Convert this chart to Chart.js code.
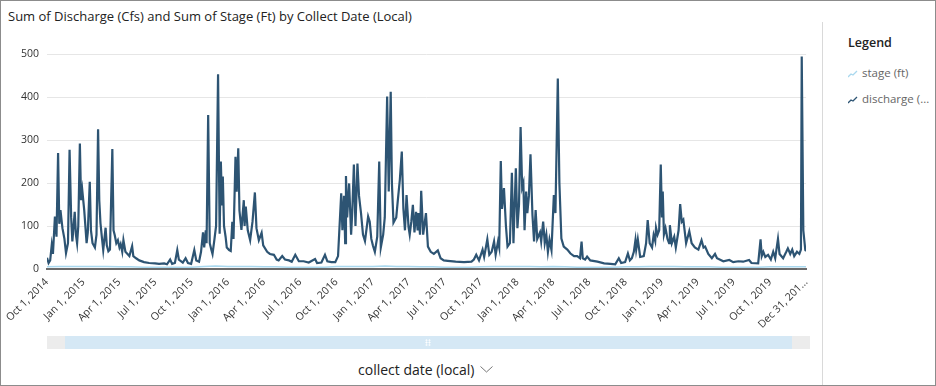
<!DOCTYPE html>
<html lang="en">
<head>
<meta charset="UTF-8">
<title>Sum of Discharge and Sum of Stage by Collect Date</title>
<script src="https://cdn.jsdelivr.net/npm/chart.js"></script>
<style>
  body { margin: 0; background: #fff; font-family: "Open Sans", sans-serif; }
  .frame { position: relative; width: 936px; height: 386px; overflow: hidden; }
  .edge { position: absolute; left: 0; top: 0; right: 0; bottom: 0; border: 1px solid #8c8c8c; pointer-events: none; }
  .title { position: absolute; left: 8px; top: 7px; font-size: 13px; color: #222; white-space: nowrap; }
  .plot { position: absolute; left: 0; top: 0; width: 822px; height: 332px; }
  .divider { position: absolute; left: 822px; top: 22px; bottom: 0; border-left: 1px solid #d9d9d9; }
  .legend { position: absolute; left: 848px; top: 34px; color: #666; font-size: 11.5px; }
  .legend h4 { margin: 0 0 14px 0; font-size: 12.5px; font-weight: 600; color: #222; }
  .legend div { height: 26px; white-space: nowrap; }
  .legend svg { margin-right: 4px; vertical-align: -1px; }
  .scroll { position: absolute; left: 47px; top: 336px; width: 763px; height: 13px; background: #d5e8f5; }
  .handle { position: absolute; top: 0; width: 18px; height: 13px; background: #ececec; }
  .grip { position: absolute; left: 378px; top: 3px; width: 6px; height: 7px;
          background-image: radial-gradient(#fff 45%, transparent 50%); background-size: 3px 2.4px; }
  .axis-title { position: absolute; left: 358px; top: 360px; font-size: 14px; color: #222; white-space: nowrap; }
  .axis-title svg { margin-left: 6px; vertical-align: 2px; }
</style>
</head>
<body>
<div class="frame">
  <div class="title">Sum of Discharge (Cfs) and Sum of Stage (Ft) by Collect Date (Local)</div>
  <div class="plot"><canvas id="flowChart"></canvas></div>
  <div class="divider"></div>
  <div class="legend">
    <h4>Legend</h4>
    <div><svg width="10" height="8"><polyline points="0,7 3,4 5,5 9,1" fill="none" stroke="#a9d8ee" stroke-width="1.3"/></svg>stage (ft)</div>
    <div><svg width="10" height="8"><polyline points="0,7 3,4 5,5 9,1" fill="none" stroke="#2d5473" stroke-width="1.3"/></svg>discharge (...</div>
  </div>
  <div class="scroll">
    <div class="handle" style="left:0"></div>
    <div class="grip"></div>
    <div class="handle" style="right:0"></div>
  </div>
  <div class="axis-title">collect date (local)<svg width="13" height="7"><polyline points="0.5,0.5 6.5,6 12.5,0.5" fill="none" stroke="#777" stroke-width="1"/></svg></div>
  <div class="edge"></div>
</div>

<script>
    // x axis ticks (quarter starts, last day is cut off in the original)
    const tickDates = ["2014-10-01", "2015-01-01", "2015-04-01", "2015-07-01", "2015-10-01", "2016-01-01",
        "2016-04-01", "2016-07-01", "2016-10-01", "2017-01-01", "2017-04-01", "2017-07-01", "2017-10-01",
        "2018-01-01", "2018-04-01", "2018-07-01", "2018-10-01", "2019-01-01", "2019-04-01", "2019-07-01",
        "2019-10-01", "2019-12-31"];
    const tickLabels = ["Oct 1, 2014", "Jan 1, 2015", "Apr 1, 2015", "Jul 1, 2015", "Oct 1, 2015", "Jan 1, 2016",
        "Apr 1, 2016", "Jul 1, 2016", "Oct 1, 2016", "Jan 1, 2017", "Apr 1, 2017", "Jul 1, 2017", "Oct 1, 2017",
        "Jan 1, 2018", "Apr 1, 2018", "Jul 1, 2018", "Oct 1, 2018", "Jan 1, 2019", "Apr 1, 2019", "Jul 1, 2019",
        "Oct 1, 2019", "Dec 31, 201..."];

    // discharge (cfs), one line per quarter
    const collectDates = [
        "2014-10-01","2014-10-05","2014-10-09","2014-10-13","2014-10-16","2014-10-21","2014-10-25","2014-10-29","2014-11-01","2014-11-04","2014-11-09","2014-11-14","2014-11-18","2014-11-23","2014-11-27","2014-12-01","2014-12-04","2014-12-10","2014-12-13","2014-12-16","2014-12-19","2014-12-23","2014-12-26","2014-12-29",
        "2015-01-03","2015-01-09","2015-01-12","2015-01-17","2015-01-20","2015-01-24","2015-01-30","2015-02-03","2015-02-07","2015-02-10","2015-02-13","2015-02-17","2015-02-20","2015-02-26","2015-03-01","2015-03-05","2015-03-09","2015-03-15","2015-03-18","2015-03-21","2015-03-25","2015-03-29",
        "2015-04-02","2015-04-05","2015-04-09","2015-04-12","2015-04-17","2015-04-20","2015-04-27","2015-05-04","2015-05-07","2015-05-14","2015-05-22","2015-06-03","2015-06-16",
        "2015-07-01","2015-07-11","2015-07-24","2015-07-31","2015-08-08","2015-08-13","2015-08-20","2015-08-26","2015-08-30","2015-09-09","2015-09-16","2015-09-22","2015-09-30",
        "2015-10-08","2015-10-13","2015-10-20","2015-10-25","2015-10-30","2015-11-02","2015-11-06","2015-11-08","2015-11-12","2015-11-16","2015-11-20","2015-11-23","2015-11-28","2015-12-02","2015-12-07","2015-12-11","2015-12-14","2015-12-17","2015-12-19","2015-12-22","2015-12-26","2015-12-29",
        "2016-01-04","2016-01-08","2016-01-12","2016-01-15","2016-01-20","2016-01-23","2016-01-27","2016-01-30","2016-02-04","2016-02-10","2016-02-12","2016-02-15","2016-02-20","2016-02-26","2016-03-03","2016-03-09","2016-03-13","2016-03-19","2016-03-26","2016-03-30",
        "2016-04-09","2016-04-16","2016-04-26","2016-05-03","2016-05-08","2016-05-17","2016-05-24","2016-06-03","2016-06-10","2016-06-19","2016-06-28",
        "2016-07-10","2016-07-23","2016-08-08","2016-08-13","2016-08-24","2016-09-02","2016-09-08","2016-09-18","2016-09-28",
        "2016-10-05","2016-10-13","2016-10-16","2016-10-20","2016-10-23","2016-10-25","2016-10-28","2016-11-02","2016-11-07","2016-11-10","2016-11-14","2016-11-18","2016-11-23","2016-11-27","2016-12-02","2016-12-07","2016-12-12","2016-12-20","2016-12-24","2016-12-28",
        "2017-01-01","2017-01-06","2017-01-12","2017-01-17","2017-01-21","2017-01-27","2017-01-31","2017-02-06","2017-02-10","2017-02-15","2017-02-18","2017-02-22","2017-03-01","2017-03-05","2017-03-10","2017-03-15","2017-03-19","2017-03-23","2017-03-27",
        "2017-04-01","2017-04-04","2017-04-08","2017-04-12","2017-04-16","2017-04-20","2017-04-24","2017-04-26","2017-04-30","2017-05-03","2017-05-08","2017-05-15","2017-05-20","2017-05-27","2017-06-04","2017-06-14","2017-06-21","2017-06-29",
        "2017-07-09","2017-07-29","2017-08-19","2017-09-07","2017-09-13","2017-09-19","2017-09-26",
        "2017-10-05","2017-10-09","2017-10-17","2017-10-22","2017-10-28","2017-11-03","2017-11-07","2017-11-13","2017-11-16","2017-11-20","2017-11-23","2017-11-28","2017-12-03","2017-12-07","2017-12-13","2017-12-18","2017-12-22","2017-12-28",
        "2018-01-01","2018-01-05","2018-01-09","2018-01-13","2018-01-16","2018-01-19","2018-01-23","2018-01-26","2018-01-30","2018-02-03","2018-02-08","2018-02-12","2018-02-16","2018-02-20","2018-02-27","2018-03-02","2018-03-07","2018-03-11","2018-03-15","2018-03-19","2018-03-23","2018-03-28",
        "2018-04-03","2018-04-07","2018-04-13","2018-04-17","2018-04-22","2018-04-28","2018-05-07","2018-05-15","2018-05-24","2018-06-01","2018-06-08","2018-06-12","2018-06-15","2018-06-21","2018-06-26",
        "2018-07-04","2018-07-22","2018-08-08","2018-08-24","2018-09-05","2018-09-14","2018-09-20","2018-09-30",
        "2018-10-07","2018-10-12","2018-10-17","2018-10-22","2018-10-26","2018-10-28","2018-11-01","2018-11-07","2018-11-16","2018-11-22","2018-11-26","2018-12-01","2018-12-07","2018-12-11","2018-12-15","2018-12-17","2018-12-21","2018-12-25","2018-12-29",
        "2019-01-01","2019-01-03","2019-01-06","2019-01-10","2019-01-15","2019-01-19","2019-01-21","2019-01-26","2019-02-01","2019-02-05","2019-02-12","2019-02-16","2019-02-20","2019-02-24","2019-03-03","2019-03-11","2019-03-17","2019-03-25",
        "2019-04-03","2019-04-11","2019-04-16","2019-04-20","2019-04-28","2019-05-07","2019-05-15","2019-05-20","2019-06-05","2019-06-20","2019-06-30",
        "2019-07-13","2019-07-25","2019-08-09","2019-08-15","2019-09-01","2019-09-07","2019-09-10","2019-09-14","2019-09-19","2019-09-26",
        "2019-10-03","2019-10-09","2019-10-14","2019-10-21","2019-10-25","2019-11-03","2019-11-11","2019-11-15","2019-11-21","2019-11-26","2019-12-01","2019-12-08","2019-12-14","2019-12-18","2019-12-20","2019-12-24","2019-12-29","2019-12-31"
    ];
    const discharge = [
        26,14,20,56,35,122,75,270,105,137,95,70,37,60,277,120,64,133,80,60,100,292,160,184,
        137,60,85,203,90,60,50,80,325,160,107,70,44,96,55,41,45,279,90,79,60,67,
        50,58,40,67,40,37,30,53,30,25,20,16,14,
        13,12,13,11,22,12,14,44,22,15,25,14,12,
        44,20,17,40,85,50,90,60,358,60,45,35,70,100,453,82,250,150,215,100,75,50,
        44,42,110,70,261,180,281,136,91,160,100,145,90,67,110,178,95,67,84,55,
        40,35,33,22,20,30,22,20,17,33,18,
        18,15,23,14,15,33,18,16,16,
        30,176,90,170,60,216,120,199,80,135,243,100,245,170,130,80,65,122,110,70,
        55,40,75,250,50,80,120,401,180,412,200,108,120,160,207,273,140,90,172,
        98,80,110,149,85,133,90,130,80,182,80,130,52,40,35,43,25,20,
        19,17,16,17,22,33,20,
        45,28,69,33,40,64,33,64,50,251,140,188,100,52,60,224,60,234,
        95,150,330,190,200,90,180,130,170,267,125,64,137,70,85,64,110,60,80,40,68,44,
        172,130,443,200,71,52,45,36,30,30,25,64,25,22,29,
        20,17,13,12,11,25,14,16,
        36,20,25,40,67,45,69,28,30,60,114,60,50,79,65,96,80,90,243,
        120,180,80,95,70,60,102,60,75,50,90,151,110,115,60,88,60,50,
        45,67,50,52,35,25,35,25,18,21,16,
        18,17,21,14,13,69,30,40,28,33,
        22,40,25,70,35,25,40,48,35,45,30,40,35,45,494,90,44,42
    ];

    // stage (ft), monthly
    const stageDates = [
        "2014-10-01","2014-11-01","2014-12-01",
        "2015-01-01","2015-02-01","2015-03-01","2015-04-01","2015-05-01","2015-06-01","2015-07-01","2015-08-01","2015-09-01","2015-10-01","2015-11-01","2015-12-01",
        "2016-01-01","2016-02-01","2016-03-01","2016-04-01","2016-05-01","2016-06-01","2016-07-01","2016-08-01","2016-09-01","2016-10-01","2016-11-01","2016-12-01",
        "2017-01-01","2017-02-01","2017-03-01","2017-04-01","2017-05-01","2017-06-01","2017-07-01","2017-08-01","2017-09-01","2017-10-01","2017-11-01","2017-12-01",
        "2018-01-01","2018-02-01","2018-03-01","2018-04-01","2018-05-01","2018-06-01","2018-07-01","2018-08-01","2018-09-01","2018-10-01","2018-11-01","2018-12-01",
        "2019-01-01","2019-02-01","2019-03-01","2019-04-01","2019-05-01","2019-06-01","2019-07-01","2019-08-01","2019-09-01","2019-10-01","2019-11-01","2019-12-01","2019-12-31"
    ];
    const stage = [
        5,6,6,
        6,6,6,5,5,4,4,4,4,4,6,7,
        6,6,6,5,5,4,4,4,4,6,6,6,
        6,7,6,6,5,5,4,4,4,5,6,6,
        6,6,5,6,5,4,4,4,4,5,5,6,
        6,6,5,5,5,4,4,4,4,5,5,5,5
    ];

    const yTicks = [0, 100, 200, 300, 400, 500];

    const dayMs = 86400000;
    const startMs = Date.UTC(2014, 9, 1);
    function dayIndex(iso) {
        const p = iso.split("-").map(Number);
        return (Date.UTC(p[0], p[1] - 1, p[2]) - startMs) / dayMs;
    }

    const labelFont = { family: "Open Sans", size: 10.5 };

    new Chart(document.getElementById("flowChart"), {
        type: "line",
        data: {
            datasets: [{
                label: "stage (ft)",
                data: stageDates.map((d, i) => ({ x: dayIndex(d), y: stage[i] })),
                borderColor: "#a9d8ee",
                borderWidth: 1.5,
                pointRadius: 0,
                tension: 0
            }, {
                label: "discharge (cfs)",
                data: collectDates.map((d, i) => ({ x: dayIndex(d), y: discharge[i] })),
                borderColor: "#2d5473",
                borderWidth: 2.2,
                pointRadius: 0,
                tension: 0
            }]
        },
        options: {
            responsive: true,
            maintainAspectRatio: false,
            animation: false,
            layout: { padding: { top: 54, right: 12, left: 0, bottom: 0 } },
            plugins: { legend: { display: false }, tooltip: { enabled: false } },
            scales: {
                x: {
                    type: "linear",
                    min: 0,
                    max: dayIndex(tickDates[tickDates.length - 1]),
                    grid: { display: false, drawTicks: false },
                    border: { display: true, color: "#6b6b6b", width: 2 },
                    afterBuildTicks: scale => {
                        scale.ticks = tickDates.map(d => ({ value: dayIndex(d) }));
                    },
                    afterFit: scale => { scale.height = 63; },
                    ticks: {
                        autoSkip: false,
                        minRotation: 45,
                        maxRotation: 45,
                        padding: 7,
                        color: "#333",
                        font: labelFont,
                        callback: (v, i) => tickLabels[i]
                    }
                },
                y: {
                    min: 0,
                    max: 500,
                    afterBuildTicks: scale => {
                        scale.ticks = yTicks.map(v => ({ value: v }));
                    },
                    afterFit: scale => { scale.width = 47; },
                    grid: { color: "#e6e6e6", drawTicks: false },
                    border: { display: false },
                    ticks: { padding: 8, color: "#333", font: labelFont }
                }
            }
        }
    });
</script>
</body>
</html>
